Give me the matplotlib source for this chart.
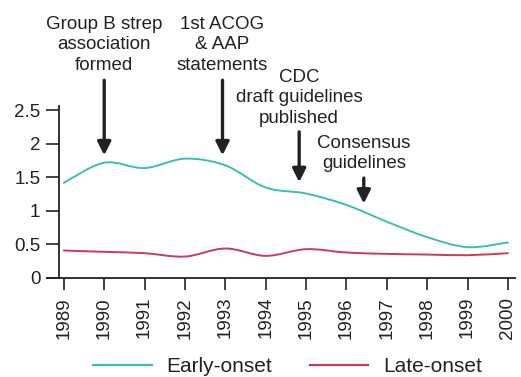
import numpy as np
import matplotlib
matplotlib.use("Agg")
matplotlib.rcParams.update({
    'font.family': ['Liberation Sans', 'DejaVu Sans'],
    'font.size': 13.5,
})
from matplotlib import pyplot as plt
from matplotlib.path import Path
from matplotlib.patches import PathPatch
from matplotlib.lines import Line2D

# GBS incidence per 1000 live births
years = [1989, 1990, 1991, 1992, 1993, 1994, 1995, 1996, 1997, 1998, 1999, 2000]
early_onset = [1.42, 1.72, 1.64, 1.78, 1.68, 1.35, 1.26, 1.09, 0.84, 0.61, 0.46, 0.53]
late_onset = [0.41, 0.39, 0.37, 0.32, 0.44, 0.33, 0.43, 0.38, 0.36, 0.35, 0.34, 0.37]

ytick_vals = [0, 0.5, 1, 1.5, 2, 2.5]
ytick_labels = ['0', '0.5', '1', '1.5', '2', '2.5']

# milestones: (label, year, text centre, arrow start, arrow tip)
events = [
    ('Group B strep\nassociation\nformed', 1990.0, 3.48, 2.95, 1.83),
    ('1st ACOG\n& AAP\nstatements', 1992.93, 3.48, 2.95, 1.83),
    ('CDC\ndraft guidelines\npublished', 1994.83, 2.69, 2.18, 1.43),
    ('Consensus\nguidelines', 1996.43, 1.86, 1.49, 1.11),
]

TEAL = '#3cc0ab'
RED = '#c93d5c'
INK = '#222222'


def smooth_path(xs, ys):
    # Catmull-Rom through the yearly values, written as cubic bezier segments
    pts = np.column_stack([xs, ys]).astype(float)
    n = len(pts)
    verts = [pts[0]]
    codes = [Path.MOVETO]
    for i in range(n - 1):
        p0 = pts[max(i - 1, 0)]
        p1 = pts[i]
        p2 = pts[i + 1]
        p3 = pts[min(i + 2, n - 1)]
        verts += [p1 + (p2 - p0) / 6.0, p2 - (p3 - p1) / 6.0, p2]
        codes += [Path.CURVE4] * 3
    return Path(verts, codes)


fig = plt.figure(figsize=(5.21, 3.77), dpi=100)
ax = fig.add_axes([0.090, 0.2626, 0.898, 0.457])

ax.add_patch(PathPatch(smooth_path(years, early_onset), fill=False,
                       edgecolor=TEAL, lw=1.4, capstyle='round'))
ax.add_patch(PathPatch(smooth_path(years, late_onset), fill=False,
                       edgecolor=RED, lw=1.4, capstyle='round'))

ax.set_xlim(1988.58, 2000.17)
ax.set_ylim(0, 2.57)

for s in ['top', 'right']:
    ax.spines[s].set_visible(False)
ax.spines['left'].set_position(('data', 1988.88))
for s in ['left', 'bottom']:
    ax.spines[s].set_linewidth(1.3)
    ax.spines[s].set_color(INK)

ax.set_xticks(years)
ax.set_xticklabels([str(y) for y in years], rotation=90, color=INK)
ax.set_yticks(ytick_vals)
ax.set_yticklabels(ytick_labels, color=INK)
ax.tick_params(axis='y', direction='out', length=9.5, width=1.2, pad=4, color=INK)
ax.tick_params(axis='x', direction='out', length=8.6, width=1.2, pad=5, color=INK)

for label, x, ty, y0, y1 in events:
    ax.text(x, ty, label, ha='center', va='center', color=INK,
            linespacing=1.27, clip_on=False)
    ax.annotate('', xy=(x, y1), xytext=(x, y0), annotation_clip=False,
                arrowprops=dict(arrowstyle='-|>', lw=2.4, color=INK,
                                mutation_scale=20, shrinkA=0, shrinkB=0))

handles = [Line2D([], [], color=TEAL, lw=1.6), Line2D([], [], color=RED, lw=1.6)]
fig.legend(handles, ['Early-onset', 'Late-onset'], loc='center',
           bbox_to_anchor=(0.552, 0.027), ncol=2, frameon=False, fontsize=15,
           handlelength=2.8, columnspacing=1.78, handletextpad=0.72,
           labelcolor=INK)

plt.savefig('out.png', dpi=100)
